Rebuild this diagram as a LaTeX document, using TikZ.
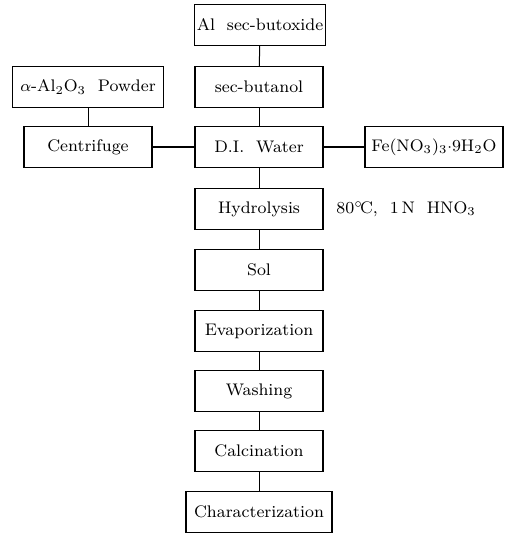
\documentclass[tikz,border=0pt]{standalone}
\usepackage{amsmath}
\usepackage{tikz}

\begin{document}
\begin{tikzpicture}[x=0.5pt, y=-0.5pt,
    box/.style={draw, line width=0.7pt, minimum width=64pt, minimum height=20.5pt, inner sep=1pt, font=\fontsize{8.4}{10}\selectfont},
    link/.style={line width=0.5pt}]
    \useasboundingbox (0,0) rectangle (512,533);

    % Main line
    \node[box, minimum width=65pt] (butox) at (260,25) {Al\ \ sec-butoxide};
    \node[box] (butanol) at (259,87) {sec-butanol};
    \node[box] (water) at (259,147) {D.I.\ \ Water};
    \node[box] (hydro) at (259,209) {Hydrolysis};
    \node[box] (sol) at (259,270) {Sol};
    \node[box] (evap) at (259,331) {Evaporization};
    \node[box] (wash) at (259,391) {Washing};
    \node[box] (calc) at (259,451) {Calcination};
    \node[box, minimum width=73pt] (charac) at (259,512) {Characterization};

    % Side branches
    \node[box, minimum width=75.5pt] (powder) at (88,87) {$\alpha$-Al$_2$O$_3$\ \ Powder};
    \node[box] (centri) at (88,147) {Centrifuge};
    \node[box, minimum width=69pt] (nitrate) at (434,147) {Fe(NO$_3$)$_3$$\cdot$9H$_2$O};

    % Conditions
    \node[anchor=west, font=\fontsize{8.4}{10}\selectfont, inner sep=1pt] (cond) at (334,209) {80$^{\circ}\!$C,\ \ 1\,N\ \ HNO$_3$};

    % Lines
    \draw[link] (butox) -- (butanol);
    \draw[link] (butanol) -- (water);
    \draw[link] (water) -- (hydro);
    \draw[link] (hydro) -- (sol);
    \draw[link] (sol) -- (evap);
    \draw[link] (evap) -- (wash);
    \draw[link] (wash) -- (calc);
    \draw[link] (calc) -- (charac);

    \draw[link] (powder) -- (centri);
    \draw[link, line width=0.7pt] (centri) -- (water);
    \draw[link, line width=0.7pt] (water) -- (nitrate);
\end{tikzpicture}
\end{document}
